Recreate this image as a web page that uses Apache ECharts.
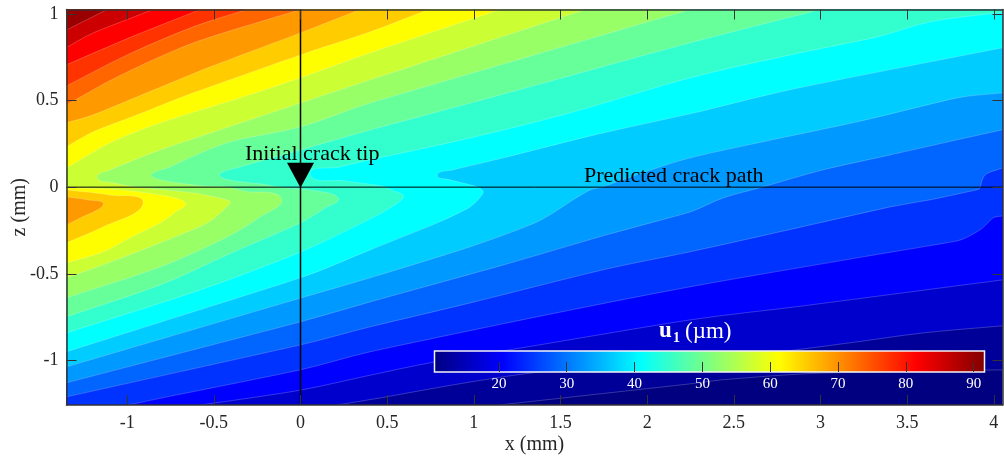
<!DOCTYPE html>
<html>
<head>
<meta charset="utf-8">
<style>html,body{margin:0;padding:0;background:#fff}#c{width:1004px;height:462px}</style>
<script src="https://cdn.jsdelivr.net/npm/echarts@6/dist/echarts.min.js"></script>
</head>
<body>
<div id="c"></div>
<script>
const xMin = -1.35, xMax = 4.05, zMin = -1.257, zMax = 1.025;
const xTicks = [-1, -0.5, 0, 0.5, 1, 1.5, 2, 2.5, 3, 3.5, 4];
const zTicks = [-1, -0.5, 0, 0.5, 1];
const barRange = [10.5, 91.6];
const barTicks = [20, 30, 40, 50, 60, 70, 80, 90];

const level10_5 = [[4.05,-1.054],[2.981,-1.074],[2.439,-1.111],[2.248,-1.135],[1.21,-1.25],[1.152,-1.257]];
const level14_6 = [[4.05,-0.8],[3.593,-0.841],[3.171,-0.898],[2.652,-0.962],[1.343,-1.071],[0.46,-1.216],[0.212,-1.257]];
const level18_6 = [[4.05,-0.535],[2.9,-0.685],[2.248,-0.766],[1.343,-0.916],[0.766,-1.01],[0.402,-1.085],[0,-1.171],[-0.463,-1.241],[-0.579,-1.257]];
const level22_7 = [[4.05,-0.166],[3.996,-0.177],[3.921,-0.246],[3.788,-0.31],[3.212,-0.408],[2.248,-0.575],[1.366,-0.748],[0.402,-0.95],[0,-1.054],[-0.769,-1.21],[-0.994,-1.257]];
const level26_7 = [[4.05,0.111],[3.95,0.071],[3.921,-0.004],[3.904,-0.015],[3.633,-0.073],[3.402,-0.114],[2.635,-0.287],[2.248,-0.373],[1.746,-0.477],[0.979,-0.668],[0.402,-0.806],[0,-0.91],[-1.35,-1.21]];
const level30_8 = [[4.05,0.331],[3.788,0.273],[3.402,0.186],[3.016,0.1],[2.67,0.002],[2.439,-0.062],[2.248,-0.143],[1.746,-0.281],[1.17,-0.449],[0.402,-0.662],[0,-0.777],[-1.35,-1.129]];
const level34_8 = [[4.05,0.544],[3.788,0.515],[3.212,0.377],[2.248,0.169],[1.746,0.002],[1.671,-0.016],[1.573,-0.073],[1.366,-0.2],[0.979,-0.344],[0.402,-0.523],[0,-0.64],[-1.35,-1.037]];
const level38_9 = [[4.05,0.804],[3.633,0.723],[2.825,0.562],[2.248,0.423],[1.746,0.313],[1.17,0.169],[0.881,0.1],[0.789,0.071],[0.864,0.042],[1.019,0.002],[1.054,-0.033],[0.979,-0.114],[0.789,-0.206],[0.402,-0.362],[0,-0.523],[-1.35,-0.95]];
const level42_9 = [[4.05,1.006],[3.979,1],[3.633,0.954],[3.327,0.867],[2.825,0.763],[2.248,0.631],[1.556,0.429],[0.979,0.284],[0.402,0.158],[0.229,0.117],[0.056,0.071],[0.258,0.036],[0.46,0.008],[0.535,-0.021],[0.593,-0.056],[0.517,-0.119],[0.402,-0.183],[0,-0.374],[-0.579,-0.593],[-1.35,-0.841]];
const level47 = [[3,1.025],[2.248,0.833],[1.152,0.532],[0.402,0.33],[0,0.215],[-0.348,0.117],[-0.463,0.06],[-0.232,0.019],[-0.117,0],[0.085,-0.021],[0.217,-0.062],[0.143,-0.119],[0,-0.206],[-0.423,-0.391],[-0.809,-0.564],[-1.35,-0.748]];
const level51 = [[2.248,1.025],[0.402,0.486],[0,0.348],[-0.423,0.256],[-0.752,0.117],[-0.856,0.06],[-0.619,0.013],[-0.423,0],[-0.308,-0.027],[-0.111,-0.062],[-0.233,-0.171],[-0.423,-0.287],[-0.809,-0.46],[-1.35,-0.639]];
const level55 = [[1.643,1.025],[0.402,0.619],[0,0.486],[-0.809,0.215],[-1.098,0.1],[-1.173,0.054],[-1.081,0.025],[-0.942,0],[-0.619,-0.033],[-0.452,-0.067],[-0.406,-0.091],[-0.538,-0.206],[-0.809,-0.321],[-1.138,-0.448],[-1.35,-0.523]];
const level59Upper = [[1.152,1.025],[0.402,0.775],[0,0.631],[-0.331,0.521],[-0.809,0.371],[-1.098,0.256],[-1.35,0.111]];
const level59Lower = [[-1.35,-0.004],[-1.04,-0.016],[-0.781,-0.05],[-0.665,-0.091],[-0.723,-0.143],[-0.809,-0.206],[-0.983,-0.292],[-1.138,-0.373],[-1.35,-0.437]];
const level63Upper = [[0.737,1.025],[0.402,0.896],[0,0.763],[-0.619,0.544],[-0.942,0.417],[-1.196,0.319],[-1.35,0.233]];
const level63Lower = [[-1.35,-0.016],[-1.1,-0.045],[-0.908,-0.096],[-1.138,-0.229],[-1.35,-0.321]];
const level67Upper = [[0.344,1.025],[0,0.89],[-0.52,0.694],[-0.942,0.521],[-1.196,0.417],[-1.35,0.371]];
const level67Lower = [[-1.35,-0.056],[-1.231,-0.073],[-1.138,-0.102],[-1.271,-0.178],[-1.35,-0.218]];
const level71 = [[0,1.025],[-0.619,0.832],[-1.058,0.636],[-1.35,0.475]];
const level75 = [[-0.308,1.025],[-0.619,0.925],[-1,0.763],[-1.35,0.584]];
const level79 = [[-0.579,1.025],[-1,0.857],[-1.35,0.706]];
const level83 = [[-0.85,1.025],[-1.196,0.89],[-1.35,0.806]];
const level87 = [[-1.115,1.025],[-1.35,0.907]];

const contourValues = [10.5,14.6,18.6,22.7,26.7,30.8,34.8,38.9,42.9,47,51,55.1,59.2,59.2,63.2,63.2,67.3,67.3,71.3,75.4,79.4,83.5,87.5];
const contourPaths = [level10_5,level14_6,level18_6,level22_7,level26_7,level30_8,level34_8,level38_9,level42_9,level47,level51,level55,level59Upper,level59Lower,level63Upper,level63Lower,level67Upper,level67Lower,level71,level75,level79,level83,level87];

const crackLineX = [[0,zMin],[0,zMax]];
const crackLineZ = [[xMin,0],[xMax,0]];
const crackTip = [[0,0.069]];

function clamp01(v){return Math.max(0,Math.min(1,v));}
function jet(t){
  const r=clamp01(Math.min(4*t-1.5,-4*t+4.5)), g=clamp01(Math.min(4*t-0.5,-4*t+3.5)), b=clamp01(Math.min(4*t+0.5,-4*t+2.5));
  return 'rgb('+Math.round(r*255)+','+Math.round(g*255)+','+Math.round(b*255)+')';
}
function bandColor(v){return jet((v-barRange[0])/(barRange[1]-barRange[0])+0.025);}
function closure(path){
  const s=path[0], e=path[path.length-1], out=[];
  if(s[0]===xMin) return out;
  if(e[1]===zMin) out.push([xMin,zMin]);
  out.push([xMin,zMax]);
  if(s[0]===xMax) out.push([xMax,zMax]);
  return out;
}
function dist(a,b){return Math.hypot(a[0]-b[0],a[1]-b[1]);}
// Smooth drawing through the traced points: handle length limited by the shorter neighbour segment.
function curve(pts){
  const n=pts.length;
  const tan=pts.map((p,i)=>{
    const a=pts[Math.max(i-1,0)], b=pts[Math.min(i+1,n-1)], l=dist(a,b)||1;
    return [(b[0]-a[0])/l,(b[1]-a[1])/l];
  });
  const seg=[];
  for(let i=0;i<n-1;i++) seg.push(dist(pts[i],pts[i+1]));
  let d='M'+pts[0][0]+' '+pts[0][1];
  for(let i=0;i<n-1;i++){
    const h1=Math.min(seg[i],i>0?seg[i-1]:seg[i])/3, h2=Math.min(seg[i],i<n-2?seg[i+1]:seg[i])/3;
    d+='C'+(pts[i][0]+tan[i][0]*h1)+' '+(pts[i][1]+tan[i][1]*h1)+' '+(pts[i+1][0]-tan[i+1][0]*h2)+' '+(pts[i+1][1]-tan[i+1][1]*h2)+' '+pts[i+1][0]+' '+pts[i+1][1];
  }
  return d;
}
function renderContour(params, api){
  const i=params.dataIndex, path=contourPaths[i];
  const line=curve(path.map(p=>api.coord(p)));
  const close=closure(path).map(p=>{const c=api.coord(p);return 'L'+c[0]+' '+c[1];}).join('')+'Z';
  return {type:'group',children:[
    {type:'path',shape:{pathData:line+close},style:{fill:bandColor(contourValues[i])}},
    {type:'path',shape:{pathData:line},style:{fill:null,stroke:'rgba(255,255,255,0.3)',lineWidth:0.7}}
  ]};
}
function renderBar(params, api){
  const a=api.coord([barRange[0],1]), b=api.coord([barRange[1],0]);
  return {type:'rect',shape:{x:a[0],y:a[1],width:b[0]-a[0],height:b[1]-a[1]},style:{
    fill:new echarts.graphic.LinearGradient(0,0,1,0,[
      {offset:0,color:'#000080'},{offset:0.125,color:'#0000ff'},{offset:0.375,color:'#00ffff'},
      {offset:0.625,color:'#ffff00'},{offset:0.875,color:'#ff0000'},{offset:1,color:'#800000'}]),
    stroke:'#f4f4f4',lineWidth:1.5}};
}
const serif='"Liberation Serif","Times New Roman",serif';
const tickStyle={length:10,inside:true,lineStyle:{color:'#333',width:1}};
const frame={show:true,onZero:false,lineStyle:{color:'#333',width:1.5}};
function fmt(v){return String(v);}
const option={
  animation:false,
  backgroundColor:'#fff',
  grid:[
    {left:66.5,top:9.5,width:936,height:395.5,show:true,backgroundColor:'#000080',borderWidth:0,outerBoundsMode:'none'},
    {left:434.5,top:351,width:550,height:21,outerBoundsMode:'none'}
  ],
  xAxis:[
    {gridIndex:0,type:'value',min:xMin,max:xMax,position:'bottom',z:3,axisLine:frame,splitLine:{show:false},
     axisTick:Object.assign({customValues:xTicks},tickStyle),
     axisLabel:{customValues:xTicks,formatter:fmt,fontFamily:serif,fontSize:18,color:'#262626',margin:9},
     name:'x (mm)',nameLocation:'middle',nameGap:30,nameMoveOverlap:false,nameTextStyle:{fontFamily:serif,fontSize:20,color:'#262626'}},
    {gridIndex:0,type:'value',min:xMin,max:xMax,position:'top',z:3,axisLine:frame,splitLine:{show:false},
     axisTick:Object.assign({customValues:xTicks},tickStyle),axisLabel:{show:false}},
    {gridIndex:1,type:'value',min:barRange[0],max:barRange[1],position:'bottom',z:6,axisLine:{show:false},splitLine:{show:false},
     axisTick:{customValues:barTicks,length:10,inside:true,lineStyle:{color:'#333',width:1}},
     axisLabel:{customValues:barTicks,formatter:fmt,fontFamily:serif,fontSize:15,color:'#fff',margin:5}}
  ],
  yAxis:[
    {gridIndex:0,type:'value',min:zMin,max:zMax,position:'left',z:3,axisLine:frame,splitLine:{show:false},
     axisTick:Object.assign({customValues:zTicks},tickStyle),
     axisLabel:{customValues:zTicks,formatter:fmt,fontFamily:serif,fontSize:18,color:'#262626',margin:8},
     name:'z (mm)',nameLocation:'middle',nameGap:37,nameMoveOverlap:false,nameTextStyle:{fontFamily:serif,fontSize:20,color:'#262626'}},
    {gridIndex:0,type:'value',min:zMin,max:zMax,position:'right',z:3,axisLine:frame,splitLine:{show:false},
     axisTick:Object.assign({customValues:zTicks},tickStyle),axisLabel:{show:false}},
    {gridIndex:1,type:'value',min:0,max:1,show:false}
  ],
  series:[
    {type:'custom',xAxisIndex:0,yAxisIndex:0,z:1,silent:true,renderItem:renderContour,encode:{x:0,y:1},data:contourPaths.map(p=>[p[0][0],p[0][1]])},
    {type:'line',xAxisIndex:0,yAxisIndex:0,z:2,symbol:'none',data:crackLineX,lineStyle:{color:'#000',width:1.5},silent:true},
    {type:'line',xAxisIndex:0,yAxisIndex:0,z:2,symbol:'none',data:crackLineZ,lineStyle:{color:'#000',width:1},silent:true},
    {type:'scatter',xAxisIndex:0,yAxisIndex:0,z:4,symbol:'triangle',symbolRotate:180,symbolSize:[27,25],itemStyle:{color:'#000',opacity:1},data:crackTip,silent:true},
    {type:'custom',xAxisIndex:2,yAxisIndex:2,z:5,silent:true,renderItem:renderBar,encode:{x:0,y:1},data:[[barRange[0],0]]}
  ],
  graphic:[
    {type:'text',z:20,x:245,y:143,style:{text:'Initial crack tip',font:'22px '+serif,fill:'#000'}},
    {type:'text',z:20,x:584,y:165,style:{text:'Predicted crack path',font:'22px '+serif,fill:'#000'}},
    {type:'text',z:20,x:659,y:320,style:{text:'u',font:'bold 23px '+serif,fill:'#fff'}},
    {type:'text',z:20,x:673,y:331,style:{text:'1',font:'bold 14px '+serif,fill:'#fff'}},
    {type:'text',z:20,x:685,y:320,style:{text:'(\u00b5m)',font:'23px '+serif,fill:'#fff'}}
  ]
};
echarts.init(document.getElementById('c')).setOption(option);
</script>
</body>
</html>
